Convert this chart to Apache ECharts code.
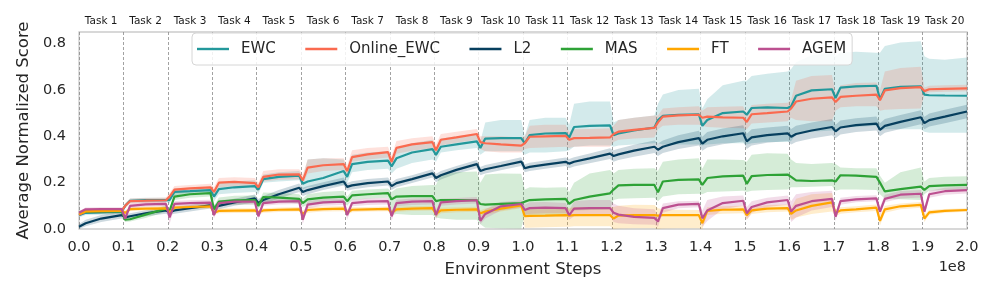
<!DOCTYPE html>
<html><head><meta charset="utf-8">
<script src="https://cdn.jsdelivr.net/npm/echarts@6/dist/echarts.min.js"></script>
<style>html,body{margin:0;padding:0;background:#fff}#c{width:997px;height:299px}</style>
</head><body><div id="c"></div>
<script>
// x positions (units of 1e8 environment steps)
const steps = [0.000,0.015,0.050,0.096, 0.104,0.115,0.150,0.196, 0.204,0.215,0.250,0.296, 0.304,0.315,0.350,0.396,
 0.404,0.415,0.450,0.496, 0.504,0.515,0.550,0.596, 0.604,0.615,0.650,0.696, 0.704,0.715,0.750,0.796,
 0.804,0.815,0.850,0.896, 0.904,0.915,0.950,0.996, 1.004,1.015,1.050,1.096, 1.104,1.115,1.150,1.196,
 1.204,1.215,1.250,1.296, 1.304,1.315,1.350,1.396, 1.404,1.415,1.450,1.496, 1.504,1.515,1.550,1.596,
 1.604,1.615,1.650,1.696, 1.704,1.715,1.750,1.796, 1.804,1.815,1.850,1.896, 1.904,1.915,1.950,2.000];
const taskLabels = ['Task 1','Task 2','Task 3','Task 4','Task 5','Task 6','Task 7','Task 8','Task 9','Task 10',
 'Task 11','Task 12','Task 13','Task 14','Task 15','Task 16','Task 17','Task 18','Task 19','Task 20'];

const ewcMean = [0.060,0.070,0.072,0.075, 0.100,0.122,0.125,0.125, 0.125,0.160,0.163,0.168, 0.140,0.172,0.180,0.185,
 0.170,0.215,0.225,0.230, 0.195,0.205,0.220,0.250, 0.225,0.280,0.290,0.295, 0.270,0.305,0.330,0.345,
 0.320,0.355,0.365,0.378, 0.350,0.390,0.392,0.392, 0.370,0.405,0.412,0.414, 0.395,0.440,0.445,0.447,
 0.405,0.412,0.425,0.438, 0.470,0.488,0.493,0.495, 0.445,0.470,0.500,0.507, 0.493,0.522,0.525,0.522,
 0.530,0.575,0.598,0.603, 0.565,0.610,0.615,0.618, 0.560,0.605,0.613,0.616, 0.580,0.577,0.576,0.575];
const ewcLo = [0.050,0.060,0.062,0.065, 0.090,0.112,0.115,0.115, 0.110,0.145,0.150,0.155, 0.120,0.150,0.155,0.160,
 0.150,0.200,0.205,0.210, 0.170,0.180,0.185,0.190, 0.200,0.245,0.255,0.260, 0.240,0.260,0.285,0.300,
 0.290,0.330,0.340,0.350, 0.320,0.335,0.335,0.335, 0.320,0.330,0.330,0.335, 0.340,0.355,0.360,0.360,
 0.355,0.360,0.365,0.370, 0.370,0.365,0.365,0.365, 0.360,0.365,0.370,0.370, 0.365,0.370,0.375,0.375,
 0.380,0.410,0.420,0.425, 0.420,0.440,0.440,0.445, 0.425,0.430,0.430,0.430, 0.420,0.415,0.415,0.415];
const ewcHi = [0.070,0.080,0.082,0.085, 0.110,0.132,0.135,0.135, 0.140,0.175,0.178,0.182, 0.160,0.200,0.205,0.210,
 0.190,0.235,0.245,0.250, 0.220,0.300,0.305,0.300, 0.250,0.320,0.330,0.335, 0.300,0.350,0.370,0.385,
 0.350,0.390,0.400,0.410, 0.380,0.460,0.470,0.470, 0.400,0.470,0.480,0.480, 0.450,0.540,0.550,0.550,
 0.460,0.470,0.480,0.490, 0.540,0.580,0.600,0.605, 0.520,0.560,0.620,0.640, 0.640,0.660,0.670,0.680,
 0.690,0.720,0.750,0.760, 0.745,0.760,0.765,0.760, 0.760,0.790,0.805,0.810, 0.745,0.735,0.730,0.740];

const oewcMean = [0.062,0.075,0.076,0.078, 0.100,0.120,0.122,0.124, 0.140,0.170,0.175,0.180, 0.160,0.200,0.203,0.198,
 0.180,0.225,0.235,0.236, 0.210,0.265,0.275,0.280, 0.250,0.310,0.322,0.332, 0.290,0.350,0.365,0.375,
 0.340,0.385,0.395,0.410, 0.375,0.370,0.365,0.360, 0.370,0.398,0.400,0.402, 0.385,0.392,0.393,0.395,
 0.410,0.420,0.428,0.436, 0.460,0.485,0.490,0.493, 0.480,0.485,0.482,0.480, 0.462,0.495,0.500,0.507,
 0.520,0.550,0.562,0.568, 0.548,0.570,0.575,0.580, 0.556,0.598,0.608,0.612, 0.595,0.603,0.605,0.607];
const oewcLo = [0.055,0.065,0.066,0.068, 0.090,0.110,0.112,0.114, 0.125,0.155,0.160,0.165, 0.140,0.180,0.183,0.180,
 0.160,0.205,0.213,0.215, 0.190,0.240,0.250,0.255, 0.225,0.290,0.300,0.308, 0.265,0.325,0.338,0.348,
 0.310,0.360,0.372,0.385, 0.345,0.335,0.330,0.330, 0.345,0.350,0.352,0.355, 0.350,0.355,0.355,0.355,
 0.375,0.385,0.390,0.395, 0.430,0.445,0.450,0.450, 0.445,0.440,0.437,0.435, 0.430,0.455,0.460,0.465,
 0.480,0.470,0.465,0.465, 0.510,0.525,0.530,0.530, 0.510,0.515,0.518,0.520, 0.580,0.590,0.592,0.594];
const oewcHi = [0.070,0.085,0.086,0.088, 0.110,0.132,0.134,0.136, 0.155,0.185,0.190,0.195, 0.180,0.220,0.223,0.220,
 0.200,0.250,0.258,0.258, 0.235,0.300,0.305,0.305, 0.275,0.340,0.350,0.355, 0.315,0.380,0.392,0.400,
 0.365,0.410,0.420,0.432, 0.400,0.400,0.400,0.395, 0.400,0.445,0.450,0.450, 0.420,0.430,0.432,0.435,
 0.445,0.470,0.480,0.490, 0.490,0.520,0.525,0.530, 0.510,0.525,0.528,0.530, 0.495,0.535,0.540,0.545,
 0.560,0.640,0.660,0.665, 0.585,0.620,0.630,0.632, 0.600,0.680,0.695,0.700, 0.610,0.618,0.620,0.622];

const l2Mean = [0.010,0.025,0.045,0.060, 0.050,0.055,0.068,0.080, 0.072,0.080,0.090,0.102, 0.090,0.100,0.115,0.132,
 0.112,0.125,0.150,0.178, 0.160,0.168,0.185,0.205, 0.182,0.188,0.198,0.205, 0.185,0.198,0.215,0.240,
 0.220,0.232,0.255,0.280, 0.250,0.258,0.272,0.291, 0.262,0.268,0.278,0.290, 0.282,0.290,0.305,0.325,
 0.315,0.322,0.338,0.355, 0.342,0.355,0.375,0.392, 0.368,0.385,0.400,0.413, 0.378,0.395,0.405,0.413,
 0.398,0.410,0.425,0.440, 0.421,0.438,0.448,0.455, 0.428,0.445,0.462,0.482, 0.457,0.470,0.485,0.507];
const l2Lo = [0.000,0.012,0.030,0.045, 0.038,0.042,0.055,0.066, 0.060,0.066,0.076,0.088, 0.076,0.085,0.100,0.115,
 0.095,0.108,0.132,0.160, 0.142,0.150,0.168,0.188, 0.165,0.170,0.180,0.188, 0.168,0.180,0.198,0.222,
 0.202,0.214,0.238,0.262, 0.232,0.240,0.254,0.272, 0.245,0.250,0.260,0.272, 0.262,0.270,0.284,0.302,
 0.290,0.298,0.312,0.328, 0.315,0.328,0.345,0.360, 0.338,0.352,0.366,0.378, 0.345,0.360,0.372,0.380,
 0.365,0.375,0.390,0.405, 0.392,0.408,0.418,0.425, 0.400,0.415,0.432,0.452, 0.430,0.442,0.456,0.478];
const l2Hi = [0.022,0.040,0.060,0.075, 0.062,0.068,0.081,0.094, 0.084,0.094,0.104,0.116, 0.104,0.115,0.130,0.149,
 0.129,0.142,0.168,0.196, 0.178,0.186,0.202,0.222, 0.199,0.206,0.216,0.222, 0.202,0.216,0.232,0.258,
 0.238,0.250,0.272,0.298, 0.268,0.276,0.290,0.310, 0.279,0.286,0.296,0.308, 0.302,0.310,0.326,0.348,
 0.340,0.346,0.364,0.382, 0.369,0.382,0.405,0.424, 0.398,0.418,0.434,0.448, 0.411,0.430,0.438,0.446,
 0.431,0.445,0.460,0.475, 0.450,0.468,0.478,0.485, 0.456,0.475,0.492,0.512, 0.484,0.498,0.514,0.536];

const masMean = [0.070,0.075,0.076,0.077, 0.040,0.042,0.062,0.088, 0.078,0.140,0.150,0.155, 0.085,0.118,0.124,0.125,
 0.100,0.138,0.135,0.130, 0.112,0.128,0.135,0.140, 0.120,0.145,0.150,0.155, 0.128,0.140,0.142,0.142,
 0.120,0.125,0.125,0.124, 0.108,0.105,0.108,0.112, 0.118,0.125,0.128,0.130, 0.108,0.125,0.140,0.154,
 0.170,0.188,0.190,0.190, 0.158,0.205,0.212,0.214, 0.190,0.220,0.227,0.230, 0.195,0.228,0.233,0.235,
 0.225,0.210,0.207,0.210, 0.205,0.232,0.230,0.225, 0.200,0.162,0.172,0.183, 0.169,0.185,0.188,0.190];
const masLo = [0.062,0.066,0.067,0.068, 0.030,0.032,0.048,0.074, 0.065,0.125,0.135,0.140, 0.070,0.100,0.105,0.106,
 0.085,0.118,0.115,0.110, 0.095,0.105,0.110,0.115, 0.100,0.125,0.130,0.135, 0.060,0.065,0.060,0.060,
 0.050,0.045,0.040,0.040, 0.020,0.005,0.003,0.002, 0.060,0.055,0.053,0.055, 0.075,0.080,0.082,0.085,
 0.125,0.130,0.133,0.135, 0.120,0.140,0.150,0.152, 0.150,0.160,0.162,0.165, 0.160,0.165,0.168,0.170,
 0.180,0.180,0.182,0.185, 0.165,0.170,0.170,0.168, 0.150,0.130,0.128,0.125, 0.150,0.165,0.168,0.170];
const masHi = [0.078,0.084,0.085,0.086, 0.050,0.052,0.072,0.102, 0.090,0.155,0.165,0.170, 0.100,0.136,0.143,0.145,
 0.115,0.158,0.155,0.150, 0.130,0.150,0.160,0.165, 0.140,0.165,0.170,0.175, 0.160,0.175,0.185,0.190,
 0.190,0.235,0.245,0.248, 0.200,0.235,0.240,0.238, 0.170,0.180,0.178,0.180, 0.160,0.200,0.240,0.255,
 0.240,0.255,0.260,0.262, 0.250,0.290,0.300,0.305, 0.260,0.300,0.300,0.298, 0.290,0.320,0.327,0.325,
 0.300,0.285,0.280,0.285, 0.280,0.265,0.262,0.262, 0.230,0.200,0.245,0.265, 0.205,0.220,0.225,0.228];

const ftMean = [0.065,0.076,0.078,0.078, 0.070,0.086,0.088,0.089, 0.072,0.092,0.095,0.098, 0.070,0.078,0.079,0.080,
 0.072,0.080,0.083,0.085, 0.065,0.082,0.086,0.088, 0.072,0.083,0.085,0.087, 0.070,0.085,0.088,0.090,
 0.065,0.080,0.083,0.085, 0.068,0.075,0.088,0.102, 0.055,0.057,0.058,0.060, 0.058,0.060,0.060,0.060,
 0.045,0.058,0.060,0.060, 0.058,0.060,0.060,0.060, 0.025,0.078,0.083,0.085, 0.060,0.080,0.088,0.090,
 0.065,0.080,0.100,0.115, 0.070,0.080,0.085,0.092, 0.035,0.085,0.098,0.104, 0.045,0.072,0.078,0.082];
const ftLo = [0.058,0.068,0.070,0.070, 0.060,0.078,0.080,0.080, 0.062,0.083,0.086,0.088, 0.060,0.068,0.069,0.070,
 0.062,0.070,0.073,0.075, 0.050,0.070,0.075,0.077, 0.060,0.072,0.075,0.077, 0.058,0.074,0.078,0.080,
 0.050,0.068,0.072,0.074, 0.055,0.062,0.075,0.090, 0.005,0.005,0.008,0.010, 0.010,0.012,0.012,0.012,
 0.000,0.002,0.003,0.003, 0.000,0.002,0.003,0.003, 0.000,0.060,0.066,0.068, 0.040,0.065,0.072,0.075,
 0.040,0.050,0.065,0.075, 0.055,0.066,0.072,0.078, 0.015,0.070,0.085,0.092, 0.030,0.062,0.070,0.074];
const ftHi = [0.072,0.084,0.086,0.086, 0.080,0.094,0.096,0.098, 0.082,0.101,0.104,0.108, 0.080,0.088,0.089,0.090,
 0.082,0.090,0.093,0.095, 0.080,0.094,0.097,0.099, 0.084,0.094,0.095,0.097, 0.082,0.096,0.098,0.100,
 0.080,0.092,0.094,0.096, 0.081,0.088,0.101,0.114, 0.085,0.090,0.092,0.095, 0.090,0.095,0.095,0.095,
 0.095,0.100,0.105,0.104, 0.090,0.085,0.083,0.082, 0.050,0.094,0.098,0.100, 0.080,0.095,0.104,0.106,
 0.090,0.130,0.150,0.155, 0.085,0.094,0.098,0.106, 0.055,0.100,0.110,0.116, 0.060,0.082,0.086,0.090];

const agemMean = [0.070,0.085,0.086,0.086, 0.045,0.100,0.106,0.108, 0.050,0.108,0.112,0.114, 0.060,0.112,0.118,0.118,
 0.055,0.112,0.118,0.120, 0.040,0.105,0.115,0.118, 0.060,0.112,0.118,0.120, 0.055,0.112,0.118,0.120,
 0.060,0.115,0.120,0.124, 0.035,0.065,0.098,0.108, 0.082,0.090,0.092,0.090, 0.060,0.088,0.090,0.090,
 0.070,0.062,0.052,0.048, 0.032,0.090,0.105,0.108, 0.046,0.080,0.112,0.122, 0.068,0.095,0.115,0.125,
 0.075,0.100,0.120,0.130, 0.053,0.120,0.128,0.132, 0.075,0.130,0.148,0.152, 0.075,0.150,0.163,0.168];
const agemLo = [0.062,0.077,0.078,0.078, 0.030,0.090,0.096,0.098, 0.020,0.095,0.100,0.102, 0.045,0.100,0.106,0.106,
 0.040,0.100,0.106,0.108, 0.020,0.090,0.100,0.104, 0.040,0.098,0.104,0.106, 0.035,0.098,0.104,0.106,
 0.040,0.100,0.106,0.110, 0.020,0.045,0.080,0.092, 0.060,0.065,0.068,0.068, 0.040,0.055,0.058,0.058,
 0.030,0.025,0.020,0.018, 0.010,0.070,0.090,0.094, 0.010,0.035,0.085,0.100, 0.040,0.070,0.095,0.105,
 0.030,0.050,0.080,0.095, 0.035,0.105,0.115,0.120, 0.055,0.115,0.132,0.136, 0.055,0.135,0.148,0.153];
const agemHi = [0.078,0.093,0.094,0.094, 0.060,0.110,0.116,0.118, 0.080,0.121,0.124,0.126, 0.075,0.124,0.130,0.130,
 0.070,0.124,0.130,0.132, 0.060,0.120,0.130,0.132, 0.080,0.126,0.132,0.134, 0.075,0.126,0.132,0.134,
 0.080,0.130,0.134,0.138, 0.050,0.085,0.116,0.124, 0.105,0.115,0.116,0.112, 0.080,0.120,0.125,0.125,
 0.110,0.100,0.090,0.085, 0.055,0.110,0.120,0.122, 0.080,0.125,0.140,0.145, 0.095,0.120,0.135,0.145,
 0.120,0.150,0.160,0.165, 0.070,0.135,0.142,0.146, 0.095,0.148,0.164,0.168, 0.095,0.165,0.178,0.183];

const FONT = 'DejaVu Sans';
const TXT = '#262626';
const defs = [
  {name:'EWC', color:'#23989b', mean:ewcMean, lo:ewcLo, hi:ewcHi},
  {name:'Online_EWC', color:'#fa6a4f', mean:oewcMean, lo:oewcLo, hi:oewcHi},
  {name:'L2', color:'#073f5e', mean:l2Mean, lo:l2Lo, hi:l2Hi},
  {name:'MAS', color:'#2ea236', mean:masMean, lo:masLo, hi:masHi},
  {name:'FT', color:'#ffa600', mean:ftMean, lo:ftLo, hi:ftHi},
  {name:'AGEM', color:'#bc5090', mean:agemMean, lo:agemLo, hi:agemHi}
];
const series = [];
defs.forEach(d => {
  series.push({type:'custom', name:d.name+' band', silent:true, z:1, data:[0],
    renderItem:function(params, api){
      const pts = [];
      for (let j = 0; j < steps.length; j++) pts.push(api.coord([steps[j], d.hi[j]]));
      for (let j = steps.length - 1; j >= 0; j--) pts.push(api.coord([steps[j], d.lo[j]]));
      return {type:'polygon', shape:{points:pts}, style:{fill:d.color, opacity:0.2}};
    }});
});
defs.forEach(d => {
  series.push({type:'line', name:d.name, data:steps.map((x,j)=>[x,d.mean[j]]), symbol:'none',
    lineStyle:{color:d.color, width:2.2}, itemStyle:{color:d.color}, z:3});
});

const chart = echarts.init(document.getElementById('c'), null, {renderer:'canvas'});
chart.setOption({
  animation:false,
  backgroundColor:'#fff',
  grid:{left:79, right:30, top:32, bottom:70, show:true, borderColor:'#cccccc', borderWidth:1.3, backgroundColor:'transparent'},
  legend:{data:defs.map(d=>({name:d.name, icon:'rect'})), left:192, top:33, itemWidth:32, itemHeight:2.4, itemGap:29.5,
    padding:[7,6,7,5], borderColor:'#d6d6d6', borderWidth:1, borderRadius:4, backgroundColor:'rgba(255,255,255,0.85)',
    textStyle:{fontFamily:FONT, fontSize:15, color:TXT, padding:[0,0,0,7], lineHeight:18}},
  xAxis:[
    {type:'value', min:0, max:2, interval:0.1, position:'bottom',
     name:'Environment Steps', nameLocation:'middle', nameGap:32,
     nameTextStyle:{fontFamily:FONT, fontSize:16.5, color:TXT},
     axisLine:{show:false}, axisTick:{show:false},
     axisLabel:{fontFamily:FONT, fontSize:14.5, color:TXT, margin:11, formatter:v=>v.toFixed(1)},
     splitLine:{show:true, lineStyle:{color:'#8a8a8a', type:[3,2], width:0.8}}},
    {type:'category', data:taskLabels, position:'top', boundaryGap:true, gridIndex:0,
     axisLine:{show:false}, axisTick:{show:false}, splitLine:{show:false},
     axisLabel:{fontFamily:FONT, fontSize:10.5, color:'#1a1a1a', margin:5, interval:0}}
  ],
  yAxis:{type:'value', min:0, max:0.85, interval:0.2,
    name:'Average Normalized Score', nameLocation:'middle', nameGap:46,
    nameTextStyle:{fontFamily:FONT, fontSize:16.5, color:TXT},
    axisLine:{show:false}, axisTick:{show:false}, splitLine:{show:false},
    axisLabel:{fontFamily:FONT, fontSize:14.5, color:TXT, margin:13, showMaxLabel:false, formatter:v=>v.toFixed(1)}},
  graphic:[{type:'text', right:31, top:260, style:{text:'1e8', fontFamily:FONT, fontSize:14.5, fill:TXT}}],
  series:series
});
</script></body></html>
